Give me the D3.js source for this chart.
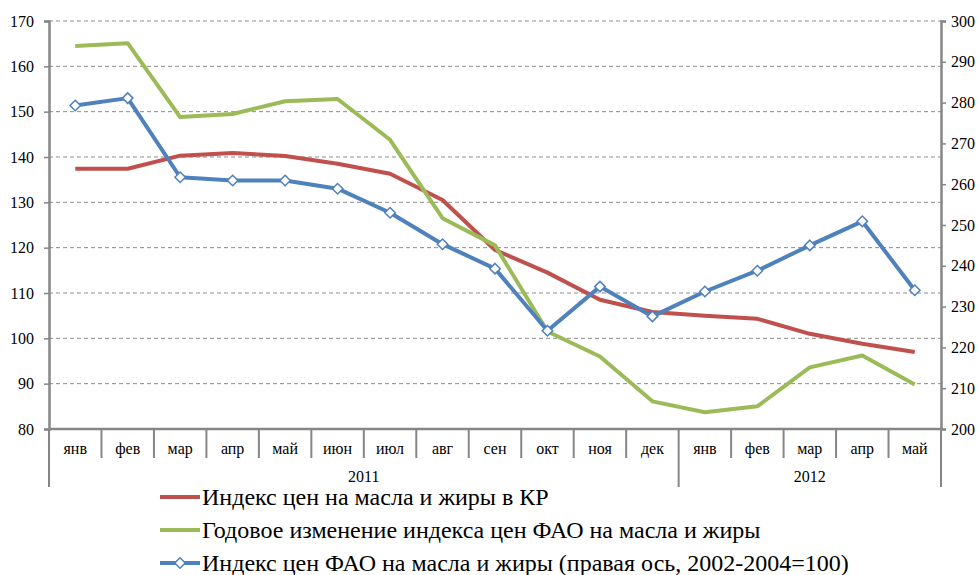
<!DOCTYPE html>
<html>
<head>
<meta charset="utf-8">
<script src="https://cdn.jsdelivr.net/npm/d3@7"></script>
<style>
  svg text { font-family: 'Liberation Serif', serif !important; }
</style>
</head>
<body style="margin:0">
<script>
// Categories
const months = ['янв', 'фев', 'мар', 'апр', 'май', 'июн', 'июл', 'авг', 'сен', 'окт', 'ноя', 'дек',
  'янв', 'фев', 'мар', 'апр', 'май'];
const years = [
  { label: '2011', from: 0, to: 12 },
  { label: '2012', from: 12, to: 17 },
];

// Series (left axis)
const kgIndex = [137.4, 137.4, 140.3, 140.9, 140.2, 138.5, 136.3, 130.5, 119.5, 114.5, 108.5, 105.8,
  105.0, 104.3, 101.0, 98.8, 97.0];
const faoYearChange = [164.5, 165.1, 148.8, 149.5, 152.3, 152.8, 143.8, 126.5, 120.5, 101.5, 96.0, 86.1,
  83.7, 85.0, 93.6, 96.2, 89.8];
// Series (right axis)
const faoIndex = [279.3, 281.1, 261.7, 260.9, 260.9, 258.9, 253.0, 245.3, 239.3, 224.1, 234.9, 227.6,
  233.7, 238.8, 245.0, 250.9, 234.0];

const leftTicks = [80, 90, 100, 110, 120, 130, 140, 150, 160, 170];
const rightTicks = [200, 210, 220, 230, 240, 250, 260, 270, 280, 290, 300];

const legendLabels = [
  'Индекс цен на масла и жиры в КР',
  'Годовое изменение индекса цен ФАО на масла и жиры',
  'Индекс цен ФАО на масла и жиры (правая ось, 2002-2004=100)',
];
const colors = ['#C0504D', '#9BBB59', '#4F81BD'];

const tickStyle = "font-family:'Liberation Serif';font-size:16px";
const legendStyle = "font-family:'Liberation Serif';font-size:24px";

const width = 980, height = 575;
const margin = { left: 49, right: 39, top: 21, bottom: 146 };
const plotW = width - margin.left - margin.right;
const plotH = height - margin.top - margin.bottom;

const svg = d3.select('body').append('svg')
  .attr('width', width)
  .attr('height', height)
  .style('display', 'block');

const chart = svg.append('g')
  .attr('transform', 'translate(' + margin.left + ',' + margin.top + ')');

const x = d3.scaleBand()
  .domain(d3.range(months.length))
  .range([0, plotW]);
const step = x.step();
const cx = i => x(i) + x.bandwidth() / 2;

const yLeft = d3.scaleLinear().domain([80, 170]).range([plotH, 0]);
const yRight = d3.scaleLinear().domain([200, 300]).range([plotH, 0]);

// Grid lines
chart.append('g')
  .selectAll('line')
  .data(leftTicks.filter(d => d > 80))
  .enter()
  .append('line')
  .attr('x1', 0)
  .attr('x2', plotW)
  .attr('y1', d => yLeft(d))
  .attr('y2', d => yLeft(d))
  .attr('stroke', '#8c8c8c')
  .attr('stroke-width', 1)
  .attr('stroke-dasharray', '4 3');

// Left axis
const leftAxis = chart.append('g')
  .call(d3.axisLeft(yLeft).tickValues(leftTicks).tickSize(5).tickPadding(10).tickFormat(d3.format('d')))
  .attr('font-family', null)
  .attr('font-size', null);
leftAxis.select('.domain').attr('stroke', '#868686').attr('stroke-width', 2.5);
leftAxis.selectAll('.tick line').attr('stroke', '#868686').attr('stroke-width', 1.5);
leftAxis.selectAll('.tick text').attr('style', tickStyle).attr('fill', '#000');

// Right axis
const rightAxis = chart.append('g')
  .attr('transform', 'translate(' + plotW + ',0)')
  .call(d3.axisRight(yRight).tickValues(rightTicks).tickSize(5).tickPadding(5).tickFormat(d3.format('d')))
  .attr('font-family', null)
  .attr('font-size', null);
rightAxis.select('.domain').attr('stroke', '#868686').attr('stroke-width', 2.5);
rightAxis.selectAll('.tick line').attr('stroke', '#868686').attr('stroke-width', 1.5);
rightAxis.selectAll('.tick text').attr('style', tickStyle).attr('fill', '#000');

// Category axis
const catAxis = chart.append('g').attr('transform', 'translate(0,' + plotH + ')');
catAxis.append('line')
  .attr('x1', 0).attr('x2', plotW)
  .attr('stroke', '#868686').attr('stroke-width', 2.5);

const yearBounds = [0].concat(years.map(d => d.to));
catAxis.selectAll('.cat-tick')
  .data(d3.range(months.length + 1))
  .enter()
  .append('line')
  .attr('class', 'cat-tick')
  .attr('x1', i => i * step)
  .attr('x2', i => i * step)
  .attr('y1', 0)
  .attr('y2', i => yearBounds.includes(i) ? 58 : 29)
  .attr('stroke', '#868686')
  .attr('stroke-width', 2);

catAxis.selectAll('.cat-label')
  .data(months)
  .enter()
  .append('text')
  .attr('class', 'cat-label')
  .attr('x', (d, i) => cx(i))
  .attr('y', 25)
  .attr('text-anchor', 'middle')
  .attr('style', tickStyle)
  .text(d => d);

catAxis.selectAll('.year-label')
  .data(years)
  .enter()
  .append('text')
  .attr('class', 'year-label')
  .attr('x', d => (d.from + d.to) / 2 * step)
  .attr('y', 53)
  .attr('text-anchor', 'middle')
  .attr('style', tickStyle)
  .text(d => d.label);

// Lines
const lineLeft = d3.line().x((d, i) => cx(i)).y(d => yLeft(d));
const lineRight = d3.line().x((d, i) => cx(i)).y(d => yRight(d));

chart.append('path')
  .datum(kgIndex)
  .attr('d', lineLeft)
  .attr('fill', 'none')
  .attr('stroke', colors[0])
  .attr('stroke-width', 4)
  .attr('stroke-linejoin', 'round');

chart.append('path')
  .datum(faoYearChange)
  .attr('d', lineLeft)
  .attr('fill', 'none')
  .attr('stroke', colors[1])
  .attr('stroke-width', 4)
  .attr('stroke-linejoin', 'round');

chart.append('path')
  .datum(faoIndex)
  .attr('d', lineRight)
  .attr('fill', 'none')
  .attr('stroke', colors[2])
  .attr('stroke-width', 4)
  .attr('stroke-linejoin', 'round');

const diamond = d3.symbol().type(d3.symbolDiamond2).size(70);
chart.selectAll('.marker')
  .data(faoIndex)
  .enter()
  .append('path')
  .attr('class', 'marker')
  .attr('transform', (d, i) => 'translate(' + cx(i) + ',' + yRight(d) + ')')
  .attr('d', diamond)
  .attr('fill', '#fff')
  .attr('stroke', colors[2])
  .attr('stroke-width', 1.5);

// Legend
const legend = svg.append('g').attr('transform', 'translate(160,497)');
const rows = legend.selectAll('.legend-row')
  .data(legendLabels)
  .enter()
  .append('g')
  .attr('class', 'legend-row')
  .attr('transform', (d, i) => 'translate(0,' + i * 33 + ')');

rows.append('line')
  .attr('x1', 0).attr('x2', 40)
  .attr('stroke', (d, i) => colors[i])
  .attr('stroke-width', 4);

rows.filter((d, i) => i === 2)
  .append('path')
  .attr('transform', 'translate(20,0)')
  .attr('d', diamond)
  .attr('fill', '#fff')
  .attr('stroke', colors[2])
  .attr('stroke-width', 1.5);

rows.append('text')
  .attr('x', 42)
  .attr('y', 8)
  .attr('style', legendStyle)
  .text(d => d);
</script>
</body>
</html>
